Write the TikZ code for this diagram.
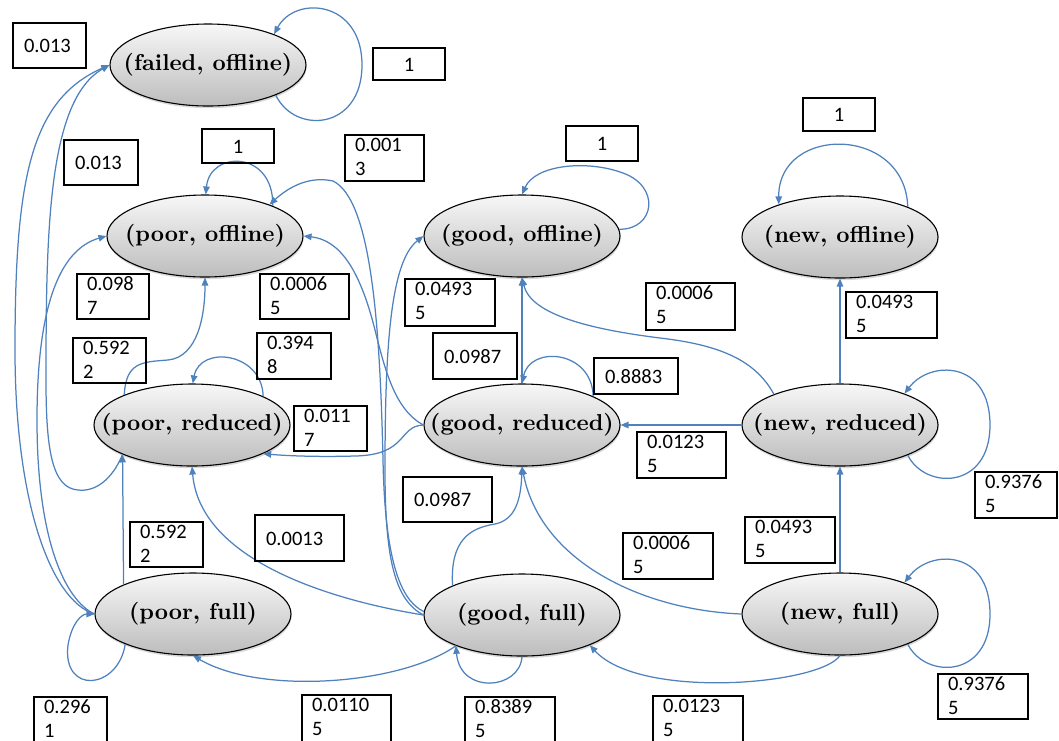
\documentclass[tikz,border=0pt]{standalone}
\usepackage{fontspec}
\newfontfamily\boxfont{Carlito}
\newfontfamily\statefont{lmroman10-bold.otf}
\usetikzlibrary{arrows.meta,shapes.geometric,shadows,fit}
\definecolor{eblue}{RGB}{79,129,189}
\tikzset{
  stnode/.style={ellipse, draw=black, line width=1.1pt,
    minimum width=196pt, minimum height=82pt, inner sep=0pt,
    top color=gray!6, bottom color=gray!52,
    drop shadow={shadow xshift=0.6pt, shadow yshift=-2.2pt, opacity=0.3},
    font=\statefont\fontsize{23}{27}\selectfont},
  link/.style={draw=eblue, line width=1.25pt, -{Triangle[length=8pt,width=6.5pt]}},
  pb/.style={draw=black, line width=2.3pt, inner sep=0pt},
  pt/.style={font=\boxfont\fontsize{20.5}{24}\selectfont, inner sep=0pt},
}
% state label with no width, so the ellipse keeps its fixed size
\newcommand\stlbl[1]{\makebox[0pt]{#1}}
% probability boxes: one line, the value 1, and a value broken over two lines
\newcommand\pbone[6]{\node[pb, fit={(#2,#3) (#4,#5)}] (#1) {};
  \node[pt, anchor=base west] (#1-t) at ([shift={(12,7)}]#1.west) {#6};}
\newcommand\pbunit[5]{\node[pb, fit={(#2,#3) (#4,#5)}] (#1) {};
  \node[pt, anchor=base] (#1-t) at ([shift={(0,7)}]#1.center) {1};}
\newcommand\pbtwo[7]{\node[pb, fit={(#2,#3) (#4,#5)}] (#1) {};
  \node[pt, anchor=base west] (#1-a) at ([shift={(11,18)}]#1.north west) {#6};
  \node[pt, anchor=base west] (#1-b) at ([shift={(11,42)}]#1.north west) {#7};}

\begin{document}
\begin{tikzpicture}[x=1pt,y=-1pt]
\useasboundingbox (0,0) rectangle (1059,740);
\clip (0,0) rectangle (1059,740);

% states
\node[stnode] (fo) at (208,65)  {\stlbl{(failed, offline)}};
\node[stnode] (po) at (205,236) {\stlbl{(poor, offline)}};
\node[stnode] (pr) at (192,425) {\stlbl{(poor, reduced)}};
\node[stnode] (pf) at (193,614) {\stlbl{(poor, full)}};
\node[stnode] (go) at (522,236) {\stlbl{(good, offline)}};
\node[stnode] (gr) at (522,425) {\stlbl{(good, reduced)}};
\node[stnode] (gf) at (522,615) {\stlbl{(good, full)}};
\node[stnode] (no) at (840,237) {\stlbl{(new, offline)}};
\node[stnode] (nr) at (840,425) {\stlbl{(new, reduced)}};
\node[stnode] (nf) at (840,614) {\stlbl{(new, full)}};

% self loops
\draw[link] (fo.-24) .. controls (295,135) and (362,130) .. (362,65)
            .. controls (362,0) and (295,-5) .. (fo.25);
\draw[link] (po.24) .. controls (274,150) and (210,150) .. (po.89);
\draw[link] (pr.22) .. controls (262,352) and (200,345) .. (pr.89);
\draw[link] (pf.-156) .. controls (118,690) and (62,695) .. (68,645)
            .. controls (72,622) and (82,614) .. (pf.180);
\draw[link] (go.4) .. controls (655,230) and (662,185) .. (620,172)
            .. controls (585,160) and (535,165) .. (go.90);
\draw[link] (gr.22) .. controls (592,350) and (530,345) .. (gr.90);
\draw[link] (gf.-90) .. controls (520,690) and (460,695) .. (gf.-155);
\draw[link] (no.24) .. controls (905,125) and (778,125) .. (no.152);
\draw[link] (nr.-24) .. controls (925,490) and (990,490) .. (990,425)
            .. controls (990,360) and (930,360) .. (nr.26);
\draw[link] (nf.-24) .. controls (925,679) and (990,679) .. (990,614)
            .. controls (990,549) and (930,549) .. (nf.26);

% poor states
\draw[link] (pf.157) -- (pr.-157);
\draw[link] (pr.156) .. controls (126,362) and (142,362) .. (168,360)
            .. controls (198,357) and (205,315) .. (po.-90);
\draw[link] (pf.180) .. controls (50,600) and (15,500) .. (15,350)
            .. controls (15,180) and (30,100) .. (fo.180);
\draw[link] (pf.180) .. controls (65,600) and (37,540) .. (37,420)
            .. controls (37,310) and (58,250) .. (po.180);
\draw[link] (pr.-157) .. controls (112,480) and (95,492) .. (78,490)
            .. controls (52,488) and (46,450) .. (46,380)
            .. controls (46,230) and (48,100) .. (fo.180);

% good states
\draw[link] (gr.90) -- (go.-90);
\draw[link] (gf.-155) .. controls (400,685) and (260,695) .. (pf.-90);
\draw[link] (gf.180) .. controls (330,600) and (200,560) .. (pr.-90);
\draw[link] (gf.178) .. controls (400,600) and (385,560) .. (383,460)
            .. controls (380,330) and (372,200) .. (333,181)
            .. controls (310,176) and (290,186) .. (po.26);
\draw[link] (gr.180) .. controls (395,410) and (385,370) .. (375,330)
            .. controls (360,270) and (340,240) .. (po.0);
\draw[link] (gf.180) .. controls (395,600) and (385,560) .. (385,470)
            .. controls (385,350) and (390,262) .. (go.180);
\draw[link] (gr.180) .. controls (398,426) and (408,455) .. (355,456)
            .. controls (320,457) and (290,456) .. (pr.-22);
\draw[link] (gf.157) .. controls (450,540) and (470,528) .. (495,524)
            .. controls (515,520) and (521,500) .. (gr.-90);

% new states
\draw[link] (nr.180) -- (gr.0);
\draw[link] (nr.90) -- (no.-90);
\draw[link] (nf.90) -- (nr.-90);
\draw[link] (nr.155) .. controls (755,360) and (720,345) .. (660,338)
            .. controls (580,328) and (530,312) .. (go.-90);
\draw[link] (nf.180) .. controls (640,610) and (540,560) .. (gr.-90);
\draw[link] (nf.-90) .. controls (820,685) and (640,700) .. (gf.-24);

% transition probabilities
\pbone{b01}{13}{23}{86}{68}{0.013}
\pbunit{b02}{373}{48}{445}{80}
\pbone{b03}{64}{140}{138}{185}{0.013}
\pbunit{b04}{202}{129}{274}{163}
\pbtwo{b05}{345}{135}{424}{181}{0.001}{3}
\pbtwo{b06}{77}{274}{149}{319}{0.098}{7}
\pbtwo{b07}{260}{274}{349}{319}{0.0006}{5}
\pbtwo{b08}{73}{338}{146}{383}{0.592}{2}
\pbtwo{b09}{257}{333}{331}{379}{0.394}{8}
\pbtwo{b10}{294}{406}{367}{451}{0.011}{7}
\pbtwo{b11}{130}{522}{203}{567}{0.592}{2}
\pbone{b12}{255}{515}{344}{561}{0.0013}
\pbtwo{b13}{34}{697}{107}{750}{0.296}{1}
\pbtwo{b14}{302}{695}{391}{750}{0.0110}{5}
\pbtwo{b15}{405}{279}{495}{326}{0.0493}{5}
\pbone{b16}{433}{333}{517}{379}{0.0987}
\pbunit{b17}{566}{126}{638}{161}
\pbone{b18}{594}{358}{678}{394}{0.8883}
\pbtwo{b19}{646}{283}{735}{330}{0.0006}{5}
\pbtwo{b20}{637}{432}{726}{478}{0.0123}{5}
\pbone{b21}{403}{477}{492}{522}{0.0987}
\pbtwo{b22}{623}{533}{713}{579}{0.0006}{5}
\pbtwo{b23}{465}{697}{555}{750}{0.8389}{5}
\pbtwo{b24}{653}{696}{743}{750}{0.0123}{5}
\pbunit{b25}{803}{98}{875}{131}
\pbtwo{b26}{846}{292}{937}{338}{0.0493}{5}
\pbtwo{b27}{745}{517}{835}{563}{0.0493}{5}
\pbtwo{b28}{975}{472}{1057}{518}{0.9376}{5}
\pbtwo{b29}{938}{674}{1028}{719}{0.9376}{5}
\end{tikzpicture}
\end{document}
